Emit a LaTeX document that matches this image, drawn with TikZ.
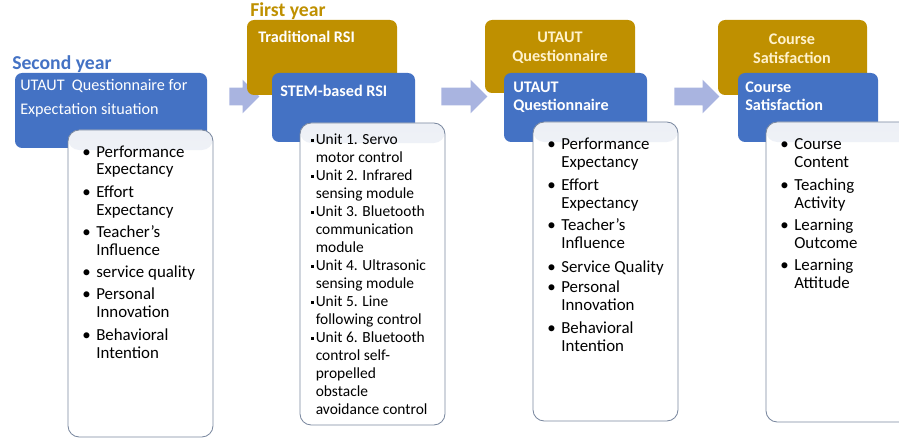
\documentclass[tikz,border=0pt]{standalone}
\usepackage{fontspec}
\setmainfont{Carlito}
\usetikzlibrary{fit,shapes.arrows}
\definecolor{boxblue}{HTML}{4472C4}
\definecolor{boxgold}{HTML}{BF9000}
\definecolor{arrowblue}{HTML}{A9B4E0}
\definecolor{edgegray}{HTML}{7A889F}
\definecolor{goldtext}{HTML}{FFF2CC}
\definecolor{topshade}{HTML}{EDF0F6}
\tikzset{
  bluebox/.style={fill=boxblue, rounded corners=5pt, inner sep=0pt},
  goldbox/.style={fill=boxgold, rounded corners=5pt, inner sep=0pt},
  listbox/.style={draw=edgegray, fill=white, rounded corners=8pt, inner sep=0pt, line width=0.6pt,
    path picture={\shade[top color=topshade, bottom color=white]
      (path picture bounding box.north west) rectangle ([yshift=-0.5cm]path picture bounding box.north east);}},
  blockarrow/.style={single arrow, fill=arrowblue, inner xsep=0pt, inner ysep=0.2125cm,
    single arrow head extend=0.2cm},
  yearlbl/.style={font=\fontsize{14}{16}\selectfont\bfseries, anchor=base west, inner sep=0pt},
  boxlbl/.style={text=white, font=\fontsize{11.5}{12.8}\selectfont\bfseries, anchor=base west, inner sep=0pt},
  goldlbl/.style={text=goldtext, font=\fontsize{11.5}{13.5}\selectfont\bfseries, anchor=base, inner sep=0pt},
  listlbl/.style={font=\fontsize{12}{12.8}\selectfont, anchor=base west, inner sep=0pt},
}
\newcommand{\sqbul}{\raisebox{2.2pt}{\rule{2.2pt}{2.2pt}}}
\begin{document}
\begin{tikzpicture}[x=0.025cm,y=-0.025cm]
  \useasboundingbox (0,0) rectangle (899,439);
  \clip (0,0) rectangle (899,439);
  % arrows between the years
  \node[blockarrow, minimum height=0.75cm] (ar1) at (240,96.5) {};
  \node[blockarrow, minimum height=1.15cm] (ar2) at (460,96.5) {};
  \node[blockarrow, minimum height=1.125cm] (ar3) at (692.5,96.5) {};

  % second year
  \node[yearlbl, text=boxblue] (second) at (12,70) {Second year};
  \node[bluebox, fit={(15,73) (207,148)}] (blue1) {};
  \node[boxlbl, font=\fontsize{11.5}{17}\selectfont] (bt1) at (20,91)
    {\begin{tabular}[t]{@{}l@{}}UTAUT\ \ Questionnaire for\\Expectation situation\end{tabular}};
  \node[listbox, fit={(68,130) (213,437)}] (list1) {};
  \node[listlbl] (lt1) at (82,157) {\begin{tabular}[t]{@{}l@{\hspace{4pt}}l@{}}
    \textbullet & Performance\\ & Expectancy\\[3pt]
    \textbullet & Effort\\ & Expectancy\\[3pt]
    \textbullet & Teacher’s\\ & Influence\\[3pt]
    \textbullet & service quality\\[3pt]
    \textbullet & Personal\\ & Innovation\\[3pt]
    \textbullet & Behavioral\\ & Intention
  \end{tabular}};

  % first year
  \node[yearlbl, text=boxgold] (first) at (250,17) {First year};
  \node[goldbox, fit={(247,20) (397,95)}] (gold2) {};
  \node[boxlbl] (gt2) at (258,43) {Traditional RSI};
  \node[bluebox, fit={(272,73) (415,142)}] (blue2) {};
  \node[boxlbl] (bt2) at (280,97) {STEM-based RSI};
  \node[listbox, fit={(300,123) (445,425)}] (list2) {};
  \node[listlbl, font=\fontsize{11}{12.8}\selectfont] (lt2) at (311,145) {\begin{tabular}[t]{@{}l@{\hspace{1pt}}l@{}}
    \sqbul & Unit 1. Servo\\ & motor control\\
    \sqbul & Unit 2. Infrared\\ & sensing module\\
    \sqbul & Unit 3. Bluetooth\\ & communication\\ & module\\
    \sqbul & Unit 4. Ultrasonic\\ & sensing module\\
    \sqbul & Unit 5. Line\\ & following control\\
    \sqbul & Unit 6. Bluetooth\\ & control self-\\ & propelled\\ & obstacle\\ & avoidance control
  \end{tabular}};

  % UTAUT
  \node[goldbox, fit={(485,20) (635,93)}] (gold3) {};
  \node[goldlbl] (gt3) at (560,43) {\begin{tabular}[t]{@{}c@{}}UTAUT\\Questionnaire\end{tabular}};
  \node[bluebox, fit={(504,73) (647,142)}] (blue3) {};
  \node[boxlbl] (bt3) at (513,93) {\begin{tabular}[t]{@{}l@{}}UTAUT\\Questionnaire\end{tabular}};
  \node[listbox, fit={(533,122) (678,421)}] (list3) {};
  \node[listlbl] (lt3) at (547,150) {\begin{tabular}[t]{@{}l@{\hspace{4pt}}l@{}}
    \textbullet & Performance\\ & Expectancy\\[3pt]
    \textbullet & Effort\\ & Expectancy\\[3pt]
    \textbullet & Teacher’s\\ & Influence\\[4pt]
    \textbullet & Service Quality\\[2pt]
    \textbullet & Personal\\ & Innovation\\[3pt]
    \textbullet & Behavioral\\ & Intention
  \end{tabular}};

  % course satisfaction
  \node[goldbox, fit={(718,20) (867,95)}] (gold4) {};
  \node[goldlbl] (gt4) at (792,45) {\begin{tabular}[t]{@{}c@{}}Course\\Satisfaction\end{tabular}};
  \node[bluebox, fit={(738,73) (878,142)}] (blue4) {};
  \node[boxlbl] (bt4) at (745,93) {\begin{tabular}[t]{@{}l@{}}Course\\Satisfaction\end{tabular}};
  \node[listbox, fit={(766,122) (930,422)}] (list4) {};
  \node[listlbl] (lt4) at (780,150) {\begin{tabular}[t]{@{}l@{\hspace{4pt}}l@{}}
    \textbullet & Course\\ & Content\\[3pt]
    \textbullet & Teaching\\ & Activity\\[3pt]
    \textbullet & Learning\\ & Outcome\\[3pt]
    \textbullet & Learning\\ & Attitude
  \end{tabular}};
\end{tikzpicture}
\end{document}
